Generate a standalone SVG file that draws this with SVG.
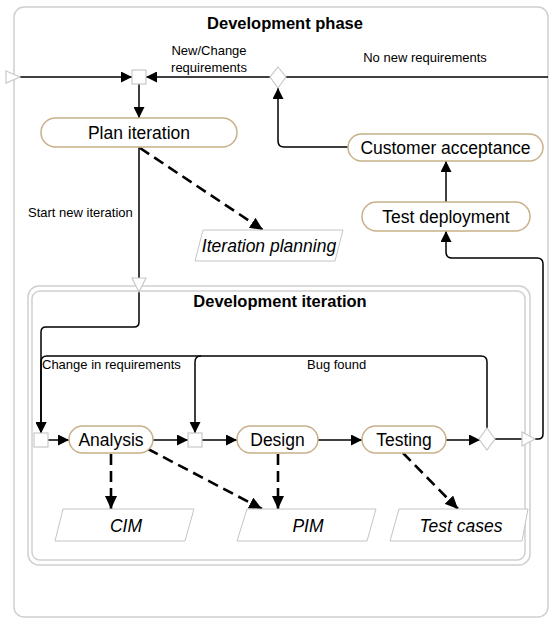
<svg xmlns="http://www.w3.org/2000/svg" width="550" height="619" viewBox="0 0 550 619">
<defs>
<marker id="ah" markerWidth="11" markerHeight="11" refX="11" refY="5.5" orient="auto" markerUnits="userSpaceOnUse">
<path d="M0,0 L11,5.5 L0,11 z" fill="#000"/>
</marker>
<marker id="ahd" markerWidth="13" markerHeight="12" refX="13" refY="6" orient="auto" markerUnits="userSpaceOnUse">
<path d="M0,0 L13,6 L0,12 z" fill="#000"/>
</marker>
</defs>
<style>
.frame{fill:none;stroke:#cfcfcf;stroke-width:1.5}
.pill{fill:#fff;stroke:#c8b088;stroke-width:1.5}
.obj{fill:#fff;stroke:#c4c4c4;stroke-width:1}
.ctl{fill:#fff;stroke:#c8c8c8;stroke-width:1.2}
.pin{fill:#fff;stroke:#c8c8c8;stroke-width:1.2}
.flow{fill:none;stroke:#000;stroke-width:1.5}
.oflow{fill:none;stroke:#000;stroke-width:2.6;stroke-dasharray:11,6}
.t{font-family:"Liberation Sans",Arial,sans-serif;fill:#000}
.node{font-size:17.5px}
.it{font-size:17.5px;font-style:italic}
.lbl{font-size:13px}
.title{font-size:16.5px;font-weight:bold}
</style>

<g id="development-phase">
<rect class="frame" x="14" y="7" width="534" height="610" rx="10"/>
<text class="t title" x="285" y="29" text-anchor="middle">Development phase</text>
</g>

<g id="development-iteration">
<rect class="frame" x="28" y="286" width="502" height="279" rx="11"/>
<rect class="frame" x="32" y="291" width="493" height="269" rx="8"/>
<text class="t title" x="280" y="307" text-anchor="middle">Development iteration</text>
</g>

<g id="connectors">
<path class="flow" d="M20,77 H132" marker-end="url(#ah)"/>
<path class="flow" d="M270,77 H146" marker-end="url(#ah)"/>
<path class="flow" d="M286,77 H548"/>
<path class="flow" d="M139,84 V118" marker-end="url(#ah)"/>
<path class="flow" d="M139,147 V322 Q139,327 134,327 H46 Q41,327 41,332 V433" marker-end="url(#ah)"/>
<path class="flow" d="M348,147 H284 Q278,147 278,141 V88" marker-end="url(#ah)"/>
<path class="flow" d="M446,202 V161" marker-end="url(#ah)"/>
<path class="flow" d="M535,439 H538 Q543,439 543,434 V264 Q543,258 537,258 H452 Q446,258 446,252 V231" marker-end="url(#ah)"/>
<path class="flow" d="M48,440 H69" marker-end="url(#ah)"/>
<path class="flow" d="M153,440 H188" marker-end="url(#ah)"/>
<path class="flow" d="M202,440 H237" marker-end="url(#ah)"/>
<path class="flow" d="M318,440 H362" marker-end="url(#ah)"/>
<path class="flow" d="M446,440 H480" marker-end="url(#ah)"/>
<path class="flow" d="M495,439 H522"/>
<path class="flow" d="M487,428 V362 Q487,356 481,356 H201 Q195,356 195,362 V433" marker-end="url(#ah)"/>
<path class="flow" d="M201,356 H47 Q41,356 41,362 V433" marker-end="url(#ah)"/>
<path class="oflow" d="M140,148 L263,230" marker-end="url(#ahd)"/>
<path class="oflow" d="M111,454 V509" marker-end="url(#ahd)"/>
<path class="oflow" d="M148,449 L262,509" marker-end="url(#ahd)"/>
<path class="oflow" d="M278,454 V509" marker-end="url(#ahd)"/>
<path class="oflow" d="M403,453 L458,509" marker-end="url(#ahd)"/>
<text class="t lbl" x="209" y="55" text-anchor="middle">New/Change</text>
<text class="t lbl" x="209" y="72" text-anchor="middle">requirements</text>
<text class="t lbl" x="425" y="62" text-anchor="middle">No new requirements</text>
<text class="t lbl" x="28" y="217">Start new iteration</text>
<text class="t lbl" x="42" y="369">Change in requirements</text>
<text class="t lbl" x="307" y="369">Bug found</text>
</g>

<g id="initial-pin"><path class="pin" d="M6,71 L20,77 L6,83 z"/></g>
<g id="iteration-in-pin"><path class="pin" d="M132,278 L146,278 L139,292 z"/></g>
<g id="iteration-out-pin"><path class="pin" d="M522,432 L535,439 L522,446 z"/></g>

<g id="merge-plan"><rect class="ctl" x="132" y="70" width="14" height="14"/></g>
<g id="decision-requirements"><path class="ctl" d="M278,67 L286,77 L278,88 L270,77 z"/></g>

<g id="plan-iteration">
<rect class="pill" x="41" y="118" width="196" height="29" rx="14.5"/>
<text class="t node" x="139" y="139" text-anchor="middle">Plan iteration</text>
</g>
<g id="customer-acceptance">
<rect class="pill" x="348" y="134" width="195" height="27" rx="13.5"/>
<text class="t node" x="445.5" y="154" text-anchor="middle">Customer acceptance</text>
</g>
<g id="test-deployment">
<rect class="pill" x="362" y="202" width="168" height="29" rx="14.5"/>
<text class="t node" x="446" y="222.5" text-anchor="middle">Test deployment</text>
</g>
<g id="iteration-planning">
<path class="obj" d="M203,230 L343,230 L335,261 L195,261 z"/>
<text class="t it" x="269" y="252" text-anchor="middle">Iteration planning</text>
</g>

<g id="merge-analysis"><rect class="ctl" x="34" y="433" width="14" height="14"/></g>
<g id="analysis">
<rect class="pill" x="69" y="426" width="84" height="27" rx="13.5"/>
<text class="t node" x="111" y="446" text-anchor="middle">Analysis</text>
</g>
<g id="merge-design"><rect class="ctl" x="188" y="433" width="14" height="14"/></g>
<g id="design">
<rect class="pill" x="237" y="426" width="81" height="27" rx="13.5"/>
<text class="t node" x="277.5" y="446" text-anchor="middle">Design</text>
</g>
<g id="testing">
<rect class="pill" x="362" y="426" width="84" height="27" rx="13.5"/>
<text class="t node" x="404" y="446" text-anchor="middle">Testing</text>
</g>
<g id="decision-testing"><path class="ctl" d="M487,428 L495,439 L487,450 L479,439 z"/></g>

<g id="cim">
<path class="obj" d="M63,509 L194,509 L185,541 L55,541 z"/>
<text class="t it" x="126" y="532" text-anchor="middle">CIM</text>
</g>
<g id="pim">
<path class="obj" d="M247,509 L376,509 L367,541 L237,541 z"/>
<text class="t it" x="308" y="532" text-anchor="middle">PIM</text>
</g>
<g id="test-cases">
<path class="obj" d="M399,509 L528,509 L522,541 L390,541 z"/>
<text class="t it" x="461" y="532" text-anchor="middle">Test cases</text>
</g>
</svg>
